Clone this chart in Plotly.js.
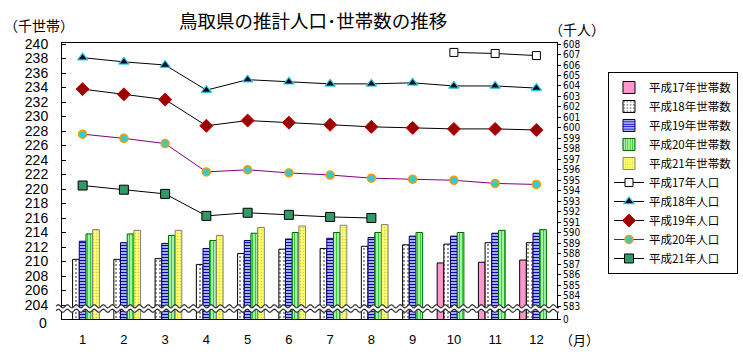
<!DOCTYPE html>
<html>
<head>
<meta charset="utf-8">
<script src="https://cdn.plot.ly/plotly-3.0.1.min.js"></script>
<style>
html,body{margin:0;padding:0;background:#fff;}
#chart{width:743px;height:355px;}
</style>
</head>
<body>
<div id="chart"></div>
<script>
// ---- data ----
var months = [1,2,3,4,5,6,7,8,9,10,11,12];
var monthLabels = ['1','2','3','4','5','6','7','8','9','10','11','12'];

// households (thousand households) - left axis
var hh17 = [null,null,null,null,null,null,null,null,null,209.8,209.9,210.2];
var hh18 = [210.3,210.3,210.4,209.6,211.1,211.7,211.8,212.1,212.3,212.4,212.6,212.6];
var hh19 = [212.8,212.6,212.5,211.8,212.9,213.1,213.2,213.3,213.5,213.5,213.9,213.9];
var hh20 = [213.8,213.8,213.6,212.9,213.9,214.0,214.0,214.0,214.0,214.0,214.3,214.4];
var hh21 = [214.4,214.3,214.3,213.6,214.7,214.9,215.0,215.1];

// population (thousand persons) - right axis
var pop17 = [null,null,null,null,null,null,null,null,null,607.2,607.1,606.9];
var pop18 = [606.7,606.3,606.0,603.6,604.6,604.4,604.2,604.2,604.3,604.0,604.0,603.8];
var pop19 = [603.7,603.2,602.7,600.2,600.7,600.5,600.3,600.1,600.0,599.9,599.9,599.8];
var pop20 = [599.4,599.0,598.5,595.8,596.0,595.7,595.5,595.2,595.1,595.0,594.7,594.6];
var pop21 = [594.5,594.1,593.7,591.6,591.9,591.7,591.5,591.4];

var hhNames = ['平成17年世帯数','平成18年世帯数','平成19年世帯数','平成20年世帯数','平成21年世帯数'];
var popNames = ['平成17年人口','平成18年人口','平成19年人口','平成20年人口','平成21年人口'];

// left axis ticks (the broken-axis "0" is drawn as a label below)
var leftTickVals = [];
var leftTickText = [];
for (var v = 204; v <= 240; v += 2) { leftTickVals.push(v); leftTickText.push(String(v)); }
// right axis ticks
var rightTickVals = [581.76];
var rightTickText = ['0'];
for (var r = 583; r <= 608; r++) { rightTickVals.push(r); rightTickText.push(String(r)); }

var JP = '"Noto Sans CJK JP", "Noto Sans", sans-serif';
var NUM = '"Liberation Sans", Arial, sans-serif';

var traces = [
  {type:'bar', name:hhNames[0], x:months, y:hh17,
   marker:{color:'#FF99CC', line:{color:'#000', width:1}}},
  {type:'bar', name:hhNames[1], x:months, y:hh18,
   marker:{color:'#FFFFFF', line:{color:'#000', width:1},
     pattern:{shape:'.', fgcolor:'#000000', bgcolor:'#FFFFFF', size:4, solidity:0.12}}},
  {type:'bar', name:hhNames[2], x:months, y:hh19,
   marker:{color:'#FFFFFF', line:{color:'#000066', width:1},
     pattern:{shape:'-', fgcolor:'#0000CC', bgcolor:'#FFFFFF', size:3, solidity:0.55}}},
  {type:'bar', name:hhNames[3], x:months, y:hh20,
   marker:{color:'#CCFFCC', line:{color:'#006600', width:1},
     pattern:{shape:'|', fgcolor:'#33CC33', bgcolor:'#CCFFCC', size:3, solidity:0.5}}},
  {type:'bar', name:hhNames[4], x:months, y:hh21,
   marker:{color:'#FFFF99', line:{color:'#808080', width:1},
     pattern:{shape:'.', fgcolor:'#CCCC66', bgcolor:'#FFFF66', size:3, solidity:0.2}}},

  {type:'scatter', mode:'lines+markers', name:popNames[0], x:months, y:pop17, yaxis:'y2',
   line:{color:'#000', width:1},
   marker:{symbol:'square', size:8, color:'#FFFFFF', line:{color:'#000', width:1}}},
  {type:'scatter', mode:'lines+markers', name:popNames[1], x:months, y:pop18, yaxis:'y2',
   line:{color:'#000', width:1},
   marker:{symbol:'triangle-up', size:9, color:'#000033', line:{color:'#33CCCC', width:1.2}}},
  {type:'scatter', mode:'lines+markers', name:popNames[2], x:months, y:pop19, yaxis:'y2',
   line:{color:'#000', width:1},
   marker:{symbol:'diamond', size:10, color:'#990000', line:{color:'#CC0000', width:1}}},
  {type:'scatter', mode:'lines+markers', name:popNames[3], x:months, y:pop20, yaxis:'y2',
   line:{color:'#800080', width:1},
   marker:{symbol:'circle', size:8, color:'#33CCCC', line:{color:'#FF9900', width:1.5}}},
  {type:'scatter', mode:'lines+markers', name:popNames[4], x:months, y:pop21, yaxis:'y2',
   line:{color:'#000', width:1},
   marker:{symbol:'square', size:9, color:'#339966', line:{color:'#000', width:1}}}
];

// wavy break band (decoration) in paper coords
function wave(x0, x1, yc, amp, period, n) {
  var pts = [];
  for (var i = 0; i <= n; i++) {
    var x = x0 + (x1 - x0) * i / n;
    var px = (x - x0) * 495;
    pts.push([x, yc + amp * Math.sin(2 * Math.PI * px / period)]);
  }
  return pts;
}
function toPath(pts) {
  return pts.map(function(p){return p[0].toFixed(5)+','+p[1].toFixed(5);}).join(' L');
}
var W_AMP = 1.6 / 276, W_PER = 9;
var waveTop = wave(-0.012, 1.004, 0.046, W_AMP, W_PER, 400);
var waveBot = wave(-0.012, 1.004, 0.030, W_AMP, W_PER, 400);
var bandPath = 'M' + toPath(waveTop) + ' L' + toPath(waveBot.slice().reverse()) + ' Z';
var topPath = 'M' + toPath(waveTop);
var botPath = 'M' + toPath(waveBot);

var layout = {
  width:743, height:355,
  margin:{l:62, r:186, t:43, b:36, autoexpand:false},
  paper_bgcolor:'#FFFFFF', plot_bgcolor:'#FFFFFF',
  barmode:'group', bargap:0.19, bargroupgap:0,
  showlegend:true,
  legend:{x:1.103, y:0.895, xanchor:'left', yanchor:'top',
    bordercolor:'#000', borderwidth:1, bgcolor:'#FFFFFF',
    font:{family:JP, size:11.5, color:'#000'}, tracegroupgap:0, itemwidth:30},
  xaxis:{range:[0.5,12.5], tickvals:months, ticktext:monthLabels, ticks:'',
    showline:true, linecolor:'#000', linewidth:1, mirror:true, showgrid:false, zeroline:false,
    tickfont:{family:NUM, size:13, color:'#000'}, ticklabelstandoff:8},
  yaxis:{range:[202.07,240.14], tickvals:leftTickVals, ticktext:leftTickText,
    ticks:'inside', ticklen:4, tickcolor:'#000',
    showline:true, linecolor:'#000', linewidth:1, showgrid:false, zeroline:false,
    tickfont:{family:NUM, size:14, color:'#000'}, ticklabelstandoff:10},
  yaxis2:{range:[581.76,608.1], overlaying:'y', side:'right', tickvals:rightTickVals, ticktext:rightTickText,
    ticks:'outside', ticklen:3, tickcolor:'#000',
    showline:true, linecolor:'#000', linewidth:1, showgrid:false, zeroline:false,
    tickfont:{family:'"Liberation Sans Narrow", "DejaVu Sans Condensed", "Liberation Sans", sans-serif', size:10, color:'#000'}},
  shapes:[
    {type:'path', xref:'paper', yref:'paper', path:bandPath, fillcolor:'#FFFFFF', line:{width:0}, layer:'above'},
    {type:'path', xref:'paper', yref:'paper', path:topPath, line:{color:'#333333', width:1.2}, layer:'above'},
    {type:'path', xref:'paper', yref:'paper', path:botPath, line:{color:'#333333', width:1.2}, layer:'above'}
  ],
  annotations:[
    {text:'鳥取県の推計人口･世帯数の推移', xref:'paper', yref:'paper', x:0.507, y:1.083,
     xanchor:'center', yanchor:'middle', showarrow:false, font:{family:JP, size:18.5, color:'#000'}},
    {text:'（千世帯）', xref:'paper', yref:'paper', x:-0.046, y:1.065,
     xanchor:'center', yanchor:'middle', showarrow:false, font:{family:JP, size:14, color:'#000'}},
    {text:'（千人）', xref:'paper', yref:'paper', x:1.04, y:1.051,
     xanchor:'center', yanchor:'middle', showarrow:false, font:{family:JP, size:14, color:'#000'}},
    {text:'（月）', xref:'paper', yref:'paper', x:1.046, y:-0.076,
     xanchor:'center', yanchor:'middle', showarrow:false, font:{family:JP, size:13, color:'#000'}},
    {text:'0', xref:'paper', yref:'paper', x:-0.038, y:-0.016,
     xanchor:'center', yanchor:'middle', showarrow:false, font:{family:NUM, size:14, color:'#000'}}
  ]
};

Plotly.newPlot('chart', traces, layout, {displayModeBar:false, staticPlot:true});
</script>
</body>
</html>
